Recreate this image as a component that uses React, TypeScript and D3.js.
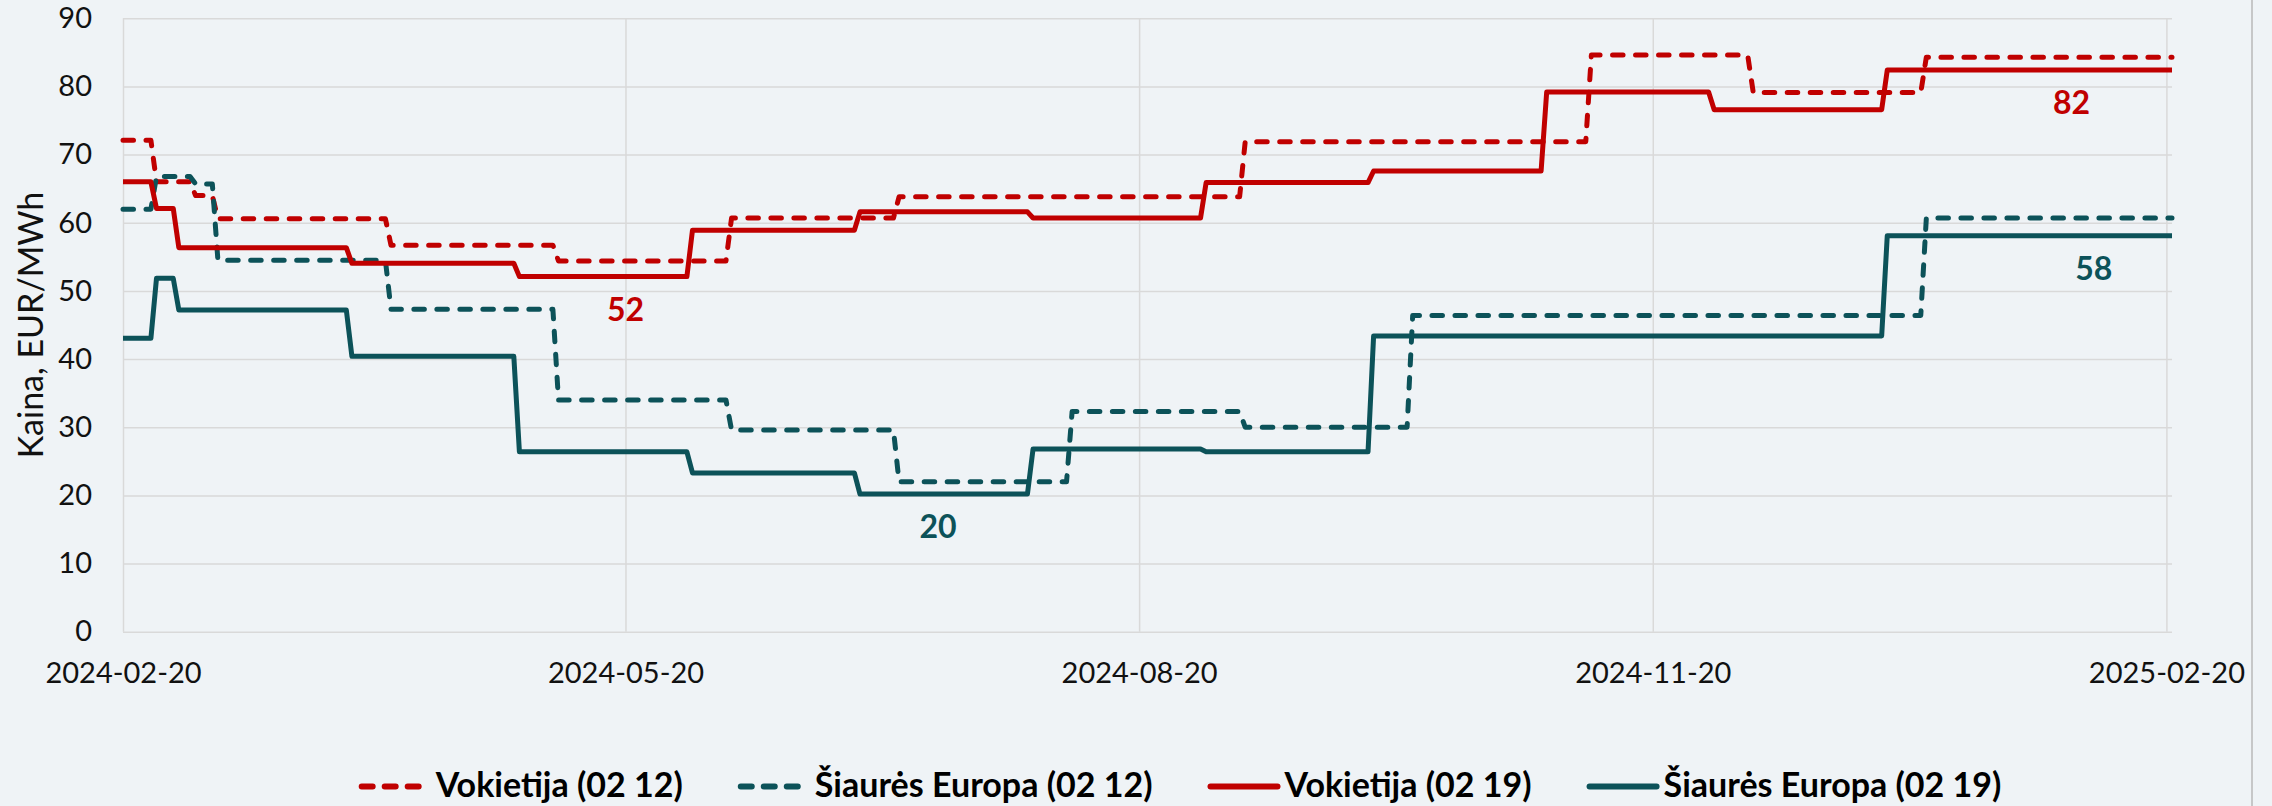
import React, { useEffect, useRef } from 'react';
import * as d3 from 'd3';

// tick labels
const tickDates = ['2024-02-20', '2024-05-20', '2024-08-20', '2024-11-20', '2025-02-20'];
const yTicks = [0, 10, 20, 30, 40, 50, 60, 70, 80, 90];
const startDate = '2024-02-20';
const endDate = '2025-02-21';

// step series: [date the price changes, new price]
const vokietija0212 = [
    ['2024-02-20', 72.1], ['2024-02-26', 66.0], ['2024-03-04', 64.0], ['2024-03-08', 60.6],
    ['2024-04-08', 56.7], ['2024-05-08', 54.4], ['2024-06-08', 60.7], ['2024-07-08', 63.8],
    ['2024-09-08', 71.9], ['2024-11-09', 84.6], ['2024-12-08', 79.1], ['2025-01-08', 84.3],
];
const siaures0212 = [
    ['2024-02-20', 62.0], ['2024-02-26', 66.8], ['2024-03-04', 65.7], ['2024-03-08', 54.5],
    ['2024-04-08', 47.3], ['2024-05-08', 34.0], ['2024-06-08', 29.6], ['2024-07-08', 22.0],
    ['2024-08-08', 32.3], ['2024-09-08', 30.0], ['2024-10-08', 46.4], ['2025-01-08', 60.7],
];
const vokietija0219 = [
    ['2024-02-20', 66.0], ['2024-02-26', 62.1], ['2024-03-01', 56.35], ['2024-04-01', 54.05],
    ['2024-05-01', 52.1], ['2024-06-01', 58.9], ['2024-07-01', 61.6], ['2024-08-01', 60.7],
    ['2024-09-01', 65.9], ['2024-10-01', 67.6], ['2024-11-01', 79.2], ['2024-12-01', 76.6],
    ['2025-01-01', 82.4],
];
const siaures0219 = [
    ['2024-02-20', 43.05], ['2024-02-26', 51.85], ['2024-03-01', 47.2], ['2024-04-01', 40.4],
    ['2024-05-01', 26.4], ['2024-06-01', 23.3], ['2024-07-01', 20.2], ['2024-08-01', 26.8],
    ['2024-09-01', 26.4], ['2024-10-01', 43.4], ['2025-01-01', 58.1],
];

const RED = '#C00000';
const TEAL = '#0C5259';

const series = [
    { name: 'Vokietija (02 12)', data: vokietija0212, color: RED, dashed: true },
    { name: 'Šiaurės Europa (02 12)', data: siaures0212, color: TEAL, dashed: true },
    { name: 'Vokietija (02 19)', data: vokietija0219, color: RED, dashed: false },
    { name: 'Šiaurės Europa (02 19)', data: siaures0219, color: TEAL, dashed: false },
];

// value labels: [text, date, value, color]
const valueLabels = [
    ['52', '2024-05-20', 52.1, RED],
    ['20', '2024-07-15', 20.2, TEAL],
    ['82', '2025-02-03', 82.4, RED],
    ['58', '2025-02-07', 58.1, TEAL],
];

const W = 2272, H = 806;
const FONT = 'Lato, "Open Sans", sans-serif';

const App = () => {
    const svgRef = useRef(null);

    useEffect(() => {
        document.body.style.margin = '0';
        const parse = d3.utcParse('%Y-%m-%d');
        const svg = d3.select(svgRef.current);
        svg.selectAll('*').remove();

        const x = d3.scaleUtc()
            .domain([parse(startDate), parse(endDate)])
            .range([123, 2172]);
        const y = d3.scaleLinear()
            .domain([0, 90])
            .range([631.7, 18.3]);

        svg.append('rect')
            .attr('width', W)
            .attr('height', H)
            .attr('fill', '#EFF3F6');

        svg.append('line')
            .attr('x1', 2252).attr('x2', 2252)
            .attr('y1', 0).attr('y2', H)
            .attr('stroke', '#B8B8B8')
            .attr('stroke-width', 1.5);

        const yAxis = d3.axisLeft(y)
            .tickValues(yTicks)
            .tickSize(-(x.range()[1] - x.range()[0]))
            .tickPadding(31);

        const yg = svg.append('g')
            .attr('transform', `translate(${x.range()[0]},0)`)
            .call(yAxis);
        yg.select('.domain').remove();
        yg.selectAll('line').attr('stroke', '#D9D9D9').attr('stroke-width', 1.5);
        yg.selectAll('text')
            .attr('fill', '#111')
            .style('font-family', FONT)
            .style('font-size', '29px');

        const xAxis = d3.axisBottom(x)
            .tickValues(tickDates.map(parse))
            .tickFormat(d3.utcFormat('%Y-%m-%d'))
            .tickSize(-(y.range()[0] - y.range()[1]))
            .tickPadding(31);

        const xg = svg.append('g')
            .attr('transform', `translate(0,${y.range()[0]})`)
            .call(xAxis);
        xg.select('.domain').remove();
        xg.selectAll('line').attr('stroke', '#D9D9D9').attr('stroke-width', 1.5);
        xg.selectAll('text')
            .attr('fill', '#111')
            .style('font-family', FONT)
            .style('font-size', '29px');

        svg.append('text')
            .attr('transform', 'translate(43,325) rotate(-90)')
            .attr('text-anchor', 'middle')
            .attr('fill', '#111')
            .style('font-family', FONT)
            .style('font-size', '34px')
            .text('Kaina, EUR/MWh');

        const drawLine = d3.line()
            .x(d => x(d[0]))
            .y(d => y(d[1]));

        const DAY = 24 * 3600 * 1000;
        series.forEach(s => {
            const pts = [];
            s.data.forEach((d, i) => {
                const t = parse(d[0]);
                if (i > 0) pts.push([new Date(t.getTime() - DAY), s.data[i - 1][1]]);
                pts.push([t, d[1]]);
            });
            pts.push([parse(endDate), s.data[s.data.length - 1][1]]);

            svg.append('path')
                .datum(pts)
                .attr('d', drawLine)
                .attr('fill', 'none')
                .attr('stroke', s.color)
                .attr('stroke-width', 5)
                .attr('stroke-linejoin', 'round')
                .attr('stroke-linecap', s.dashed ? 'round' : 'butt')
                .attr('stroke-dasharray', s.dashed ? '10.5 12.5' : null);
        });

        svg.selectAll('.vlabel')
            .data(valueLabels)
            .enter()
            .append('text')
            .attr('class', 'vlabel')
            .attr('x', d => x(parse(d[1])))
            .attr('y', d => y(d[2]) + 44)
            .attr('text-anchor', 'middle')
            .attr('fill', d => d[3])
            .style('font-family', FONT)
            .style('font-size', '32px')
            .style('font-weight', 'bold')
            .text(d => d[0]);

        // legend, centred under the plot
        const lg = svg.append('g');
        const items = series.map(s => {
            const g = lg.append('g');
            g.append('line')
                .attr('x1', 3).attr('x2', s.dashed ? 72 : 70)
                .attr('y1', 786.5).attr('y2', 786.5)
                .attr('stroke', s.color)
                .attr('stroke-width', 6)
                .attr('stroke-linecap', 'round')
                .attr('stroke-dasharray', s.dashed ? '11 12' : null);
            const t = g.append('text')
                .attr('x', 77)
                .attr('y', 797)
                .attr('fill', '#000')
                .style('font-family', FONT)
                .style('font-size', '34px')
                .style('font-weight', 'bold')
                .text(s.name);
            return { g, w: 77 + t.node().getComputedTextLength() };
        });
        const gap = 55;
        const total = d3.sum(items, d => d.w) + gap * (items.length - 1);
        let cx = 1180 - total / 2;
        items.forEach(it => {
            it.g.attr('transform', `translate(${cx},0)`);
            cx += it.w + gap;
        });
    }, []);

    return (
        <svg
            ref={svgRef}
            width={W}
            height={H}
            viewBox={`0 0 ${W} ${H}`}
            style={{ display: 'block' }}
        />
    );
};

export default App;
